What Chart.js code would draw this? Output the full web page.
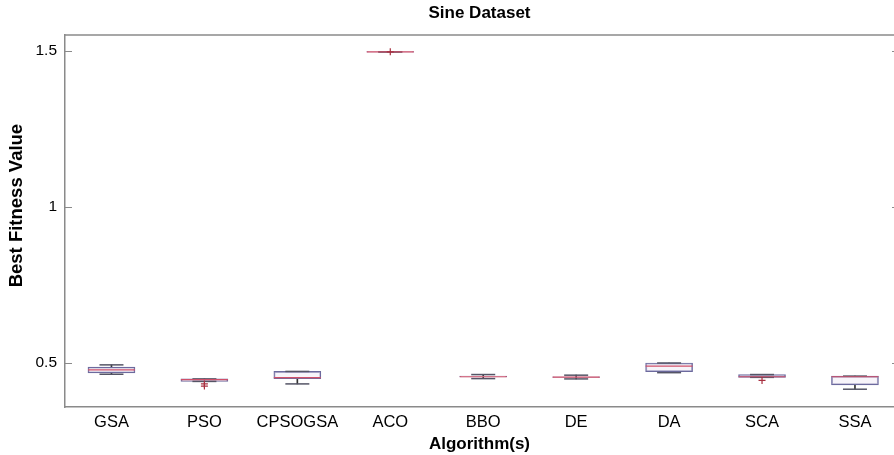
<!DOCTYPE html>
<html>
<head>
<meta charset="utf-8">
<script src="https://cdn.jsdelivr.net/npm/chart.js@4.4.1/dist/chart.umd.min.js"></script>
<style>
  html, body { margin: 0; padding: 0; background: #fff; overflow: hidden; }
  #wrap { width: 894px; height: 455px; }
</style>
</head>
<body>
<div id="wrap"><canvas id="boxChart"></canvas></div>
<script>
// algorithms on the x axis
const algorithms = ['GSA', 'PSO', 'CPSOGSA', 'ACO', 'BBO', 'DE', 'DA', 'SCA', 'SSA'];
// box statistics
const lowerWhisker = [0.464, 0.441, 0.433, 1.497, 0.450, 0.449, 0.469, 0.454, 0.416];
const q1Values     = [0.468, 0.441, 0.450, 1.496, 0.455, 0.454, 0.472, 0.454, 0.430];
const medianValues = [0.478, 0.447, 0.453, 1.497, 0.456, 0.455, 0.490, 0.456, 0.456];
const q3Values     = [0.487, 0.449, 0.473, 1.498, 0.458, 0.456, 0.500, 0.463, 0.458];
const upperWhisker = [0.494, 0.449, 0.473, 1.497, 0.463, 0.461, 0.500, 0.463, 0.458];
const outlierAlgo  = ['PSO', 'PSO', 'ACO', 'SCA'];
const outlierValue = [0.433, 0.426, 1.497, 0.444];
const yTickValues  = [0.5, 1, 1.5];

const pos = algorithms.map(function (a, i) { return i + 1; });

const boxData = pos.map(function (x, i) { return { x: x, y: [q1Values[i], q3Values[i]] }; });
const lowData = pos.map(function (x, i) { return { x: x, y: [lowerWhisker[i], q1Values[i]] }; });
const highData = pos.map(function (x, i) { return { x: x, y: [q3Values[i], upperWhisker[i]] }; });
const medData = pos.map(function (x, i) { return { x: x, y: medianValues[i] }; });
const capData = [];
pos.forEach(function (x, i) {
    capData.push({ x: x, y: lowerWhisker[i] });
    capData.push({ x: x, y: upperWhisker[i] });
});
const outData = outlierAlgo.map(function (a, i) {
    return { x: algorithms.indexOf(a) + 1, y: outlierValue[i] };
});

const axisGrey = '#8a8a8a';

// frame on top and inward tick marks like the original figure
const framePlugin = {
    id: 'frame',
    afterDraw: function (chart) {
        const ctx = chart.ctx;
        const a = chart.chartArea;
        const y = chart.scales.y;
        ctx.save();
        ctx.strokeStyle = axisGrey;
        ctx.lineWidth = 1.5;
        ctx.beginPath();
        ctx.moveTo(a.left, a.top);
        ctx.lineTo(a.right, a.top);
        ctx.stroke();
        ctx.lineWidth = 1;
        yTickValues.forEach(function (v) {
            const py = Math.round(y.getPixelForValue(v)) + 0.5;
            ctx.beginPath();
            ctx.moveTo(a.left, py);
            ctx.lineTo(a.left + 7, py);
            ctx.moveTo(a.right - 2, py);
            ctx.lineTo(a.right, py);
            ctx.stroke();
        });
        ctx.restore();
    }
};

Chart.defaults.font.family = '"Liberation Sans", Arial, sans-serif';
Chart.defaults.color = '#000';

new Chart(document.getElementById('boxChart'), {
    type: 'bar',
    data: {
        datasets: [
            {
                label: 'lower whisker',
                data: lowData,
                backgroundColor: '#333',
                barThickness: 1,
                grouped: false,
                order: 4
            },
            {
                label: 'upper whisker',
                data: highData,
                backgroundColor: '#333',
                barThickness: 1,
                grouped: false,
                order: 4
            },
            {
                label: 'box',
                data: boxData,
                backgroundColor: 'rgba(242, 236, 246, 0.6)',
                borderColor: '#6c6a9e',
                borderWidth: 1.2,
                borderSkipped: false,
                barThickness: 47,
                grouped: false,
                order: 3
            },
            {
                type: 'scatter',
                label: 'caps',
                data: capData,
                pointStyle: 'line',
                pointRadius: 12,
                borderColor: '#555566',
                borderWidth: 1.5,
                order: 2
            },
            {
                type: 'scatter',
                label: 'median',
                data: medData,
                pointStyle: 'line',
                pointRadius: 23.5,
                borderColor: '#d0506a',
                borderWidth: 1.2,
                order: 1
            },
            {
                type: 'scatter',
                label: 'outliers',
                data: outData,
                pointStyle: 'cross',
                pointRadius: 3.5,
                borderColor: '#a83040',
                borderWidth: 1.2,
                order: 0
            }
        ]
    },
    options: {
        responsive: true,
        maintainAspectRatio: false,
        animation: false,
        layout: { padding: 0, autoPadding: false },
        plugins: {
            legend: { display: false },
            tooltip: { enabled: false },
            title: {
                display: true,
                text: 'Sine Dataset',
                fullSize: false,
                font: { size: 17, weight: 'bold' },
                padding: { top: 3, bottom: 11.6 }
            }
        },
        scales: {
            x: {
                type: 'linear',
                offset: false,
                min: 0.5,
                max: 9.42,
                grid: { display: false, drawTicks: false },
                border: { display: true, color: axisGrey, width: 1.5 },
                afterBuildTicks: function (scale) {
                    scale.ticks = pos.map(function (v) { return { value: v }; });
                },
                afterFit: function (scale) {
                    scale.height = 48;
                    scale.paddingLeft = 0;
                    scale.paddingRight = 0;
                },
                ticks: {
                    autoSkip: false,
                    maxRotation: 0,
                    padding: 6,
                    font: { size: 16.5 },
                    callback: function (v) { return algorithms[v - 1]; }
                },
                title: {
                    display: true,
                    text: 'Algorithm(s)',
                    font: { size: 17, weight: 'bold' },
                    padding: { top: 0, bottom: 0 }
                }
            },
            y: {
                min: 0.359,
                max: 1.551,
                grid: { display: false, drawTicks: false },
                border: { display: true, color: axisGrey, width: 1.5 },
                afterBuildTicks: function (scale) {
                    scale.ticks = yTickValues.map(function (v) { return { value: v }; });
                },
                afterFit: function (scale) { scale.width = 65; },
                ticks: {
                    padding: 8,
                    font: { size: 15.5 },
                    callback: function (v) { return String(v); }
                },
                title: {
                    display: true,
                    text: '      Best Fitness Value',
                    font: { size: 18.5, weight: 'bold' },
                    padding: { top: 6, bottom: 0 }
                }
            }
        }
    },
    plugins: [framePlugin]
});
</script>
</body>
</html>
